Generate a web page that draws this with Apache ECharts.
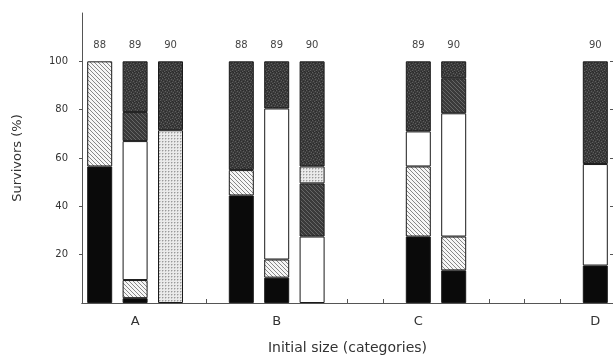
<!DOCTYPE html>
<html><head><meta charset="utf-8">
<script src="https://cdn.jsdelivr.net/npm/echarts@6/dist/echarts.min.js"></script>
<style>html,body{margin:0;padding:0;background:#fff}#c{width:613px;height:360px}</style>
</head><body><div id="c"></div>
<script>
// 15 category slots (groups of 3 with a one-slot gap)
const slotLabels = ['', 'A', '', '', '', 'B', '', '', '', 'C', '', '', '', '', 'D'];
const yearLabels = ['88', '89', '90', '', '88', '89', '90', '', '', '89', '90', '', '', '', '90'];
// stacked segments (bottom to top), % survivors; null = segment absent
const blackVals      = [56.5, 2,    null, null, 44.5, 10.5, null, null, null, 27.5, 13.5, null, null, null, 15.5];
const hatchVals      = [43.5, 7.5,  null, null, 10.5, 7.5,  null, null, null, 29,   14,   null, null, null, null];
const whiteVals      = [null, 57.5, null, null, null, 62.5, 27.5, null, null, 14.5, 51,   null, null, null, 42];
const darkHatchVals  = [null, 12,   null, null, null, null, 22,   null, null, null, 14.5, null, null, null, null];
const lightGridVals  = [null, null, 71.5, null, null, null, 7,    null, null, null, null, null, null, null, null];
const darkStipVals   = [null, 21,   28.5, null, 45,   19.5, 43.5, null, null, 29,   7,    null, null, null, 42.5];
const yTicks = [20, 40, 60, 80, 100];

function pattern(size, bg, draw) {
  const c = document.createElement('canvas');
  c.width = size; c.height = size;
  const g = c.getContext('2d');
  g.fillStyle = bg; g.fillRect(0, 0, size, size);
  draw(g, size);
  return { image: c, repeat: 'repeat' };
}
function diag(g, s, color, w) {
  g.strokeStyle = color; g.lineWidth = w;
  for (let k = -s; k <= s; k += s) {
    g.beginPath(); g.moveTo(k, 0); g.lineTo(k + s, s); g.stroke();
  }
}
const pHatch = pattern(4, '#f6f6f6', (g, s) => diag(g, s, '#7a7a7a', 0.9));
const pDarkHatch = pattern(4, '#3a3a3a', (g, s) => diag(g, s, '#666', 1));
const pLightGrid = pattern(3, '#eaeaea', (g) => { g.fillStyle = '#9a9a9a'; g.fillRect(0, 0, 1, 1); g.fillStyle = '#c8c8c8'; g.fillRect(1, 0, 1, 1); g.fillRect(0, 1, 1, 1); });
const pDarkStip = pattern(6, '#3c3c3c', (g) => {
  const light = [[0,0],[3,1],[1,3],[4,4],[5,2],[2,5]];
  const dark = [[2,0],[5,0],[0,2],[3,3],[1,5],[4,5]];
  g.fillStyle = '#5e5e5e'; light.forEach(p => g.fillRect(p[0], p[1], 1, 1));
  g.fillStyle = '#2a2a2a'; dark.forEach(p => g.fillRect(p[0], p[1], 1, 1));
});

const chart = echarts.init(document.getElementById('c'), null, { renderer: 'canvas' });
const txt = '#333';
const font = 'DejaVu Sans';
function seg(name, data, color) {
  return {
    name, type: 'bar', stack: 'all', data, barWidth: 25,
    itemStyle: { color, borderColor: '#1a1a1a', borderWidth: 1 },
    emphasis: { disabled: true }
  };
}
chart.setOption({
  animation: false,
  backgroundColor: '#fff',
  grid: { left: 82, top: 13, width: 536, height: 290.5 },
  xAxis: [{
    type: 'category', data: slotLabels, position: 'bottom',
    axisLine: { lineStyle: { color: '#555', width: 1 } },
    axisTick: { show: true, inside: true, alignWithLabel: true, length: 4, interval: 0, lineStyle: { color: '#555' } },
    axisLabel: { interval: 0, color: txt, fontFamily: font, fontSize: 13, margin: 12 },
    name: 'Initial size (categories)', nameLocation: 'middle', nameGap: 38,
    nameTextStyle: { color: txt, fontFamily: font, fontSize: 14 }
  }, {
    type: 'category', data: yearLabels, position: 'top',
    axisLine: { show: true, lineStyle: { color: '#555', width: 1 } },
    axisTick: { show: false },
    axisLabel: { interval: 0, inside: true, color: '#444', fontFamily: font, fontSize: 10, margin: 27 }
  }],
  yAxis: [{
    type: 'value', min: 0, max: 120, interval: 20,
    splitLine: { show: false },
    axisLine: { show: true, lineStyle: { color: '#555', width: 1 } },
    axisTick: { show: true, length: 3, customValues: yTicks, lineStyle: { color: '#555' } },
    axisLabel: { customValues: yTicks, color: txt, fontFamily: font, fontSize: 10, margin: 14 },
    name: 'Survivors (%)', nameLocation: 'middle', nameGap: 58, nameRotate: 90,
    nameTextStyle: { color: txt, fontFamily: font, fontSize: 13 }
  }, {
    type: 'value', min: 0, max: 120, interval: 20,
    splitLine: { show: false }, axisLine: { show: false },
    axisTick: { show: true, inside: true, length: 3, customValues: yTicks, lineStyle: { color: '#555' } },
    axisLabel: { show: false }
  }],
  series: [
    seg('black', blackVals, '#0a0a0a'),
    seg('hatch', hatchVals, pHatch),
    seg('white', whiteVals, '#ffffff'),
    seg('darkHatch', darkHatchVals, pDarkHatch),
    seg('lightGrid', lightGridVals, pLightGrid),
    seg('darkStipple', darkStipVals, pDarkStip)
  ]
});
</script></body></html>
